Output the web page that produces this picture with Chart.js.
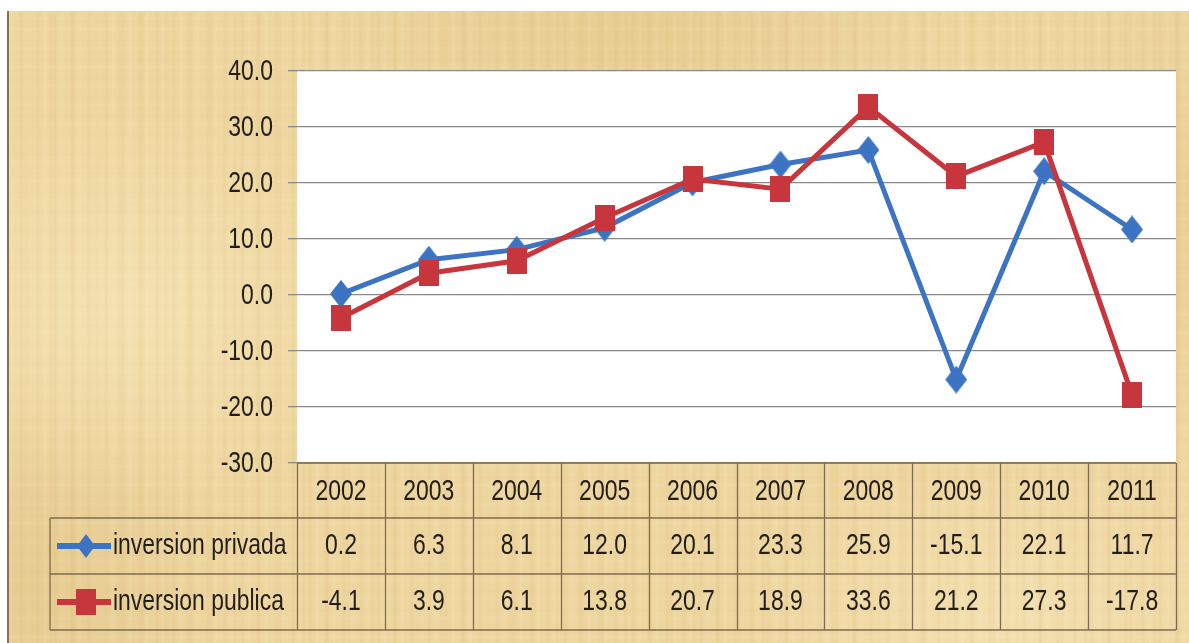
<!DOCTYPE html>
<html>
<head>
<meta charset="utf-8">
<script src="https://cdn.jsdelivr.net/npm/chart.js@4.4.1/dist/chart.umd.min.js"></script>
<style>
  html, body { margin: 0; padding: 0; background: #ffffff; width: 1189px; height: 643px; overflow: hidden; }
  #edge { position: absolute; left: 7px; top: 11px; width: 2px; height: 632px; background: #8a7048; }
  #paperClip { position: absolute; left: 9px; top: 11px; width: 1180px; height: 632px; overflow: hidden; }
  #paper {
    position: absolute; left: -6px; top: -6px; width: 1192px; height: 644px;
    filter: blur(0.8px);
    background-color: #eed6a0;
    background-image:
      repeating-linear-gradient(90deg, rgba(190,150,80,0.11) 0 2px, transparent 2px 7px, rgba(255,246,212,0.14) 7px 9px, transparent 9px 17px),
      repeating-linear-gradient(90deg, rgba(200,160,90,0.08) 0 3px, transparent 3px 23px),
      repeating-linear-gradient(0deg, rgba(175,135,70,0.06) 0 1px, transparent 1px 11px, rgba(255,246,212,0.10) 11px 13px, transparent 13px 19px),
      radial-gradient(ellipse 260px 200px at 130px 300px, rgba(250,236,195,0.55), transparent),
      radial-gradient(ellipse 320px 140px at 620px 30px, rgba(222,188,118,0.35), transparent),
      radial-gradient(ellipse 260px 160px at 1000px 610px, rgba(250,236,195,0.45), transparent),
      radial-gradient(ellipse 200px 240px at 30px 580px, rgba(214,180,110,0.30), transparent),
      radial-gradient(ellipse 160px 260px at 1189px 200px, rgba(222,190,120,0.30), transparent);
  }
  #wrap { position: absolute; left: 0; top: 0; width: 1189px; height: 643px; }
</style>
</head>
<body>
<div id="edge"></div>
<div id="paperClip"><div id="paper"></div></div>
<div id="wrap"><canvas id="chart" width="1189" height="643"></canvas></div>
<script>
// Annual growth of private and public investment (%)
const years = ['2002', '2003', '2004', '2005', '2006', '2007', '2008', '2009', '2010', '2011'];
const privada = [0.2, 6.3, 8.1, 12.0, 20.1, 23.3, 25.9, -15.1, 22.1, 11.7];
const publica = [-4.1, 3.9, 6.1, 13.8, 20.7, 18.9, 33.6, 21.2, 27.3, -17.8];
const seriesNames = ['inversion privada', 'inversion publica'];
const yMin = -30, yMax = 40, yStep = 10;

const BLUE = '#3c74c3';
const RED = '#c7363d';
const FONT = '30px "Liberation Sans", Arial, sans-serif';
const SQUEEZE = 0.765;          // narrow the glyphs horizontally
const TEXT = '#221d19';
const RULE = '#7f6c50';

// Marker sprites: a tall diamond and a tall rectangle
function diamondSprite(color, w, h) {
  const c = document.createElement('canvas');
  c.width = w; c.height = h;
  const g = c.getContext('2d');
  g.fillStyle = color;
  g.beginPath();
  g.moveTo(w / 2, 0); g.lineTo(w, h / 2); g.lineTo(w / 2, h); g.lineTo(0, h / 2);
  g.closePath(); g.fill();
  return c;
}
function rectSprite(color, w, h) {
  const c = document.createElement('canvas');
  c.width = w; c.height = h;
  const g = c.getContext('2d');
  g.fillStyle = color;
  g.fillRect(0, 0, w, h);
  return c;
}
const blueMark = diamondSprite(BLUE, 22, 28);
const redMark = rectSprite(RED, 20, 26);

// Draw text with horizontally condensed glyphs
function narrowText(ctx, str, x, y, align) {
  ctx.save();
  ctx.font = FONT;
  ctx.textBaseline = 'middle';
  ctx.textAlign = align;
  ctx.translate(x, y);
  ctx.scale(SQUEEZE, 1);
  ctx.fillText(str, 0, 0);
  ctx.restore();
}

// White plotting surface behind the grid
const plotSurface = {
  id: 'plotSurface',
  beforeDraw(chart) {
    const a = chart.chartArea, ctx = chart.ctx;
    ctx.save();
    ctx.fillStyle = '#ffffff';
    ctx.fillRect(a.left, a.top, a.right - a.left, a.bottom - a.top);
    ctx.restore();
  }
};

// Value-axis labels, right aligned next to the tick marks
const valueLabels = {
  id: 'valueLabels',
  afterDraw(chart) {
    const ctx = chart.ctx, y = chart.scales.y;
    ctx.save();
    ctx.fillStyle = TEXT;
    for (let v = yMin; v <= yMax; v += yStep) {
      narrowText(ctx, v.toFixed(1), 273, y.getPixelForValue(v) + 1, 'right');
    }
    ctx.restore();
  }
};

// Data table under the plot: year header, one row per series with its legend key
const dataTable = {
  id: 'dataTable',
  afterDraw(chart) {
    const ctx = chart.ctx, a = chart.chartArea, x = chart.scales.x;
    const n = years.length;
    const colW = (a.right - a.left) / n;
    const headH = 55, rowH = 56;
    const top = a.bottom;
    const rows = [top, top + headH, top + headH + rowH, top + headH + 2 * rowH];
    const keyLeft = 50;
    const rowsData = [privada, publica];

    ctx.save();
    ctx.strokeStyle = RULE;
    ctx.lineWidth = 1.3;
    ctx.beginPath();
    ctx.moveTo(a.left, rows[0]); ctx.lineTo(a.right, rows[0]);
    for (let r = 1; r < rows.length; r++) {
      ctx.moveTo(keyLeft, rows[r]); ctx.lineTo(a.right, rows[r]);
    }
    for (let i = 0; i <= n; i++) {
      const xe = Math.round(a.left + i * colW) + 0.5;
      ctx.moveTo(xe, rows[0]); ctx.lineTo(xe, rows[3]);
    }
    ctx.moveTo(keyLeft, rows[1]); ctx.lineTo(keyLeft, rows[3]);
    ctx.stroke();

    ctx.fillStyle = TEXT;
    years.forEach((yr, i) => {
      narrowText(ctx, yr, x.getPixelForValue(i), (rows[0] + rows[1]) / 2 + 1, 'center');
    });
    rowsData.forEach((vals, r) => {
      const cy = (rows[r + 1] + rows[r + 2]) / 2;
      vals.forEach((v, i) => {
        narrowText(ctx, v.toFixed(1), x.getPixelForValue(i), cy, 'center');
      });
    });

    const keys = [
      { color: BLUE, sprite: diamondSprite(BLUE, 18, 24) },
      { color: RED, sprite: redMark }
    ];
    keys.forEach((k, r) => {
      const cy = (rows[r + 1] + rows[r + 2]) / 2;
      ctx.strokeStyle = k.color;
      ctx.lineWidth = 6;
      ctx.beginPath();
      ctx.moveTo(57, cy); ctx.lineTo(111, cy);
      ctx.stroke();
      ctx.drawImage(k.sprite, 86 - k.sprite.width / 2, cy - k.sprite.height / 2);
      ctx.fillStyle = TEXT;
      narrowText(ctx, seriesNames[r], 113, cy, 'left');
    });
    ctx.restore();
  }
};

new Chart(document.getElementById('chart'), {
  type: 'line',
  data: {
    labels: years,
    datasets: [
      {
        label: seriesNames[0],
        data: privada,
        borderColor: BLUE,
        backgroundColor: BLUE,
        borderWidth: 5,
        pointStyle: blueMark,
        pointRadius: 5,
        pointHoverRadius: 5,
        pointBorderWidth: 0,
        tension: 0,
        order: 1
      },
      {
        label: seriesNames[1],
        data: publica,
        borderColor: RED,
        backgroundColor: RED,
        borderWidth: 5,
        pointStyle: redMark,
        pointRadius: 5,
        pointHoverRadius: 5,
        pointBorderWidth: 0,
        tension: 0,
        order: 0
      }
    ]
  },
  options: {
    responsive: false,
    devicePixelRatio: 1,
    animation: false,
    layout: { padding: { top: 71, right: 13, bottom: 180, left: 0 } },
    plugins: { legend: { display: false }, tooltip: { enabled: false } },
    scales: {
      x: { type: 'category', offset: true, display: false },
      y: {
        min: yMin,
        max: yMax,
        afterFit(s) { s.width = 297; },
        ticks: { stepSize: yStep, display: false },
        grid: { color: '#8a8a8a', lineWidth: 1.3, drawTicks: true, tickLength: 9, tickColor: '#8a8a8a' },
        border: { display: false }
      }
    }
  },
  plugins: [plotSurface, valueLabels, dataTable]
});
</script>
</body>
</html>
